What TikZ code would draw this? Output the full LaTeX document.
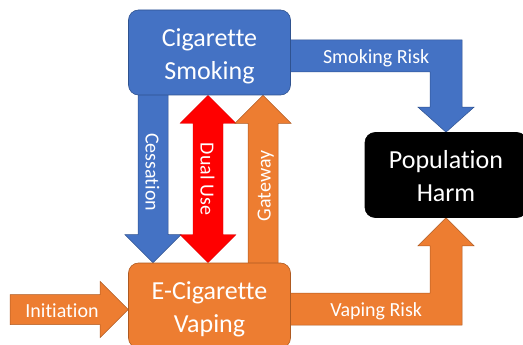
\documentclass[tikz,border=0pt]{standalone}
\usepackage{fontspec}
\setmainfont[Ligatures=NoCommon]{Carlito}
\usetikzlibrary{calc}

\definecolor{cigblue}{HTML}{4472C4}
\definecolor{cigblueline}{HTML}{2F528F}
\definecolor{vapeorange}{HTML}{ED7D31}
\definecolor{vapeline}{HTML}{AE5A21}
\definecolor{dualred}{HTML}{FF0000}

% block arrow dimensions (shaft half width, head half width, head length, elbow band half width)
\newcommand\shaftw{15}
\newcommand\headw{28}
\newcommand\headl{28}
\newcommand\bandw{16}

\pgfdeclarelayer{arrows}
\pgfsetlayers{arrows,main}

\tikzset{
  stagebox/.style={rectangle, rounded corners=10pt, minimum width=162pt,
    minimum height=85pt, inner sep=0pt, align=center, text=white,
    font=\fontsize{26}{33}\selectfont, line width=0.6pt,
    text height=54pt, text depth=0pt},
  flowlabel/.style={text=white, font=\fontsize{20}{24}\selectfont,
    inner sep=0pt, text height=16pt, text depth=1pt},
  bluefill/.style={fill=cigblue, draw=cigblueline, line width=0.5pt},
  orangefill/.style={fill=vapeorange, draw=vapeline, line width=0.5pt},
  redfill/.style={fill=dualred, draw=dualred!85!black, line width=0.4pt},
  % straight block arrows
  blockdown/.style={to path={
    ($(\tikztostart)+(-\shaftw,-4)$) -- ($(\tikztotarget)+(-\shaftw,-\headl)$)
    -- ($(\tikztotarget)+(-\headw,-\headl)$) -- (\tikztotarget)
    -- ($(\tikztotarget)+(\headw,-\headl)$) -- ($(\tikztotarget)+(\shaftw,-\headl)$)
    -- ($(\tikztostart)+(\shaftw,-4)$) -- cycle}},
  blockup/.style={to path={
    ($(\tikztostart)+(-\shaftw,4)$) -- ($(\tikztotarget)+(-\shaftw,\headl)$)
    -- ($(\tikztotarget)+(-\headw,\headl)$) -- (\tikztotarget)
    -- ($(\tikztotarget)+(\headw,\headl)$) -- ($(\tikztotarget)+(\shaftw,\headl)$)
    -- ($(\tikztostart)+(\shaftw,4)$) -- cycle}},
  blockright/.style={to path={
    ($(\tikztostart)+(0,-\shaftw)$) -- ($(\tikztotarget)+(-\headl,-\shaftw)$)
    -- ($(\tikztotarget)+(-\headl,-\headw)$) -- (\tikztotarget)
    -- ($(\tikztotarget)+(-\headl,\headw)$) -- ($(\tikztotarget)+(-\headl,\shaftw)$)
    -- ($(\tikztostart)+(0,\shaftw)$) -- cycle}},
  blockboth/.style={to path={
    (\tikztostart) -- ($(\tikztostart)+(\headw,\headl)$)
    -- ($(\tikztostart)+(\shaftw,\headl)$) -- ($(\tikztotarget)+(\shaftw,-\headl)$)
    -- ($(\tikztotarget)+(\headw,-\headl)$) -- (\tikztotarget)
    -- ($(\tikztotarget)+(-\headw,-\headl)$) -- ($(\tikztotarget)+(-\shaftw,-\headl)$)
    -- ($(\tikztostart)+(-\shaftw,\headl)$) -- ($(\tikztostart)+(-\headw,\headl)$)
    -- cycle}},
  % bent block arrows: out to the right, then down or up
  elbowdown/.style={to path={
    ($(\tikztostart)+(-4,-\bandw)$)
    -- ($(\tikztotarget|-\tikztostart)+(\bandw,-\bandw)$)
    -- ($(\tikztotarget)+(\bandw,-25)$) -- ($(\tikztotarget)+(\headw,-25)$)
    -- (\tikztotarget)
    -- ($(\tikztotarget)+(-\headw,-25)$) -- ($(\tikztotarget)+(-\bandw,-25)$)
    -- ($(\tikztotarget|-\tikztostart)+(-\bandw,\bandw)$)
    -- ($(\tikztostart)+(-4,\bandw)$) -- cycle}},
  elbowup/.style={to path={
    ($(\tikztostart)+(-4,-\bandw)$)
    -- ($(\tikztotarget|-\tikztostart)+(-\bandw,-\bandw)$)
    -- ($(\tikztotarget)+(-\bandw,\headl)$) -- ($(\tikztotarget)+(-\headw,\headl)$)
    -- (\tikztotarget)
    -- ($(\tikztotarget)+(\headw,\headl)$) -- ($(\tikztotarget)+(\bandw,\headl)$)
    -- ($(\tikztotarget|-\tikztostart)+(\bandw,\bandw)$)
    -- ($(\tikztostart)+(-4,\bandw)$) -- cycle}},
}

\begin{document}
\begin{tikzpicture}[x=1pt,y=-1pt]
\useasboundingbox (0,0) rectangle (523,345);
\clip (0,0) rectangle (523,345);

% the three stages
\node[stagebox, fill=cigblue, draw=cigblueline] (cig) at (209.5,52.5) {Cigarette\\Smoking};
\node[stagebox, fill=vapeorange, draw=vapeline] (ecig) at (209.5,305.5) {E-Cigarette\\Vaping};
\node[stagebox, fill=black, draw=black, text height=52pt] (harm) at (446,175) {Population\\Harm};

% arrow end points
\coordinate (cesS) at (153,0 |- cig.south);
\coordinate (cesT) at (153,0 |- ecig.north);
\coordinate (dualS) at (208,0 |- cig.south);
\coordinate (dualT) at (208,0 |- ecig.north);
\coordinate (gateS) at (263,0 |- ecig.north);
\coordinate (gateT) at (263,0 |- cig.south);
\coordinate (iniS) at (10,309.5);
\coordinate (iniT) at (ecig.west |- iniS);
\coordinate (smkS) at (cig.east |- 0,56);
\coordinate (smkT) at (harm.north);
\coordinate (vapS) at (ecig.east |- 0,309);
\coordinate (vapT) at (harm.south);

% transitions, drawn behind the stages
\begin{pgfonlayer}{arrows}
\draw[bluefill, blockdown] (cesS) to (cesT);
\draw[redfill, blockboth] (dualS) to (dualT);
\draw[orangefill, blockup] (gateS) to (gateT);
\draw[orangefill, blockright] (iniS) to (iniT);
\draw[bluefill, elbowdown] (smkS) to (smkT);
\draw[orangefill, elbowup] (vapS) to (vapT);
\end{pgfonlayer}

% transition labels
\node[flowlabel, rotate=-90] (cesL) at ($(cesS)!0.46!(cesT)$) {Cessation};
\node[flowlabel, rotate=-90] (dualL) at ($(dualS)!0.5!(dualT)$) {Dual Use};
\node[flowlabel, rotate=90] (gateL) at ($(gateS)!0.46!(gateT)$) {Gateway};
\node[flowlabel] (iniL) at ($(iniS)!0.44!(iniT)$) {Initiation};
\node[flowlabel] (smkL) at ($(smkS)!0.55!(smkT|-smkS)$) {Smoking Risk};
\node[flowlabel] (vapL) at ($(vapS)!0.55!(vapT|-vapS)$) {Vaping Risk};
\end{tikzpicture}
\end{document}
